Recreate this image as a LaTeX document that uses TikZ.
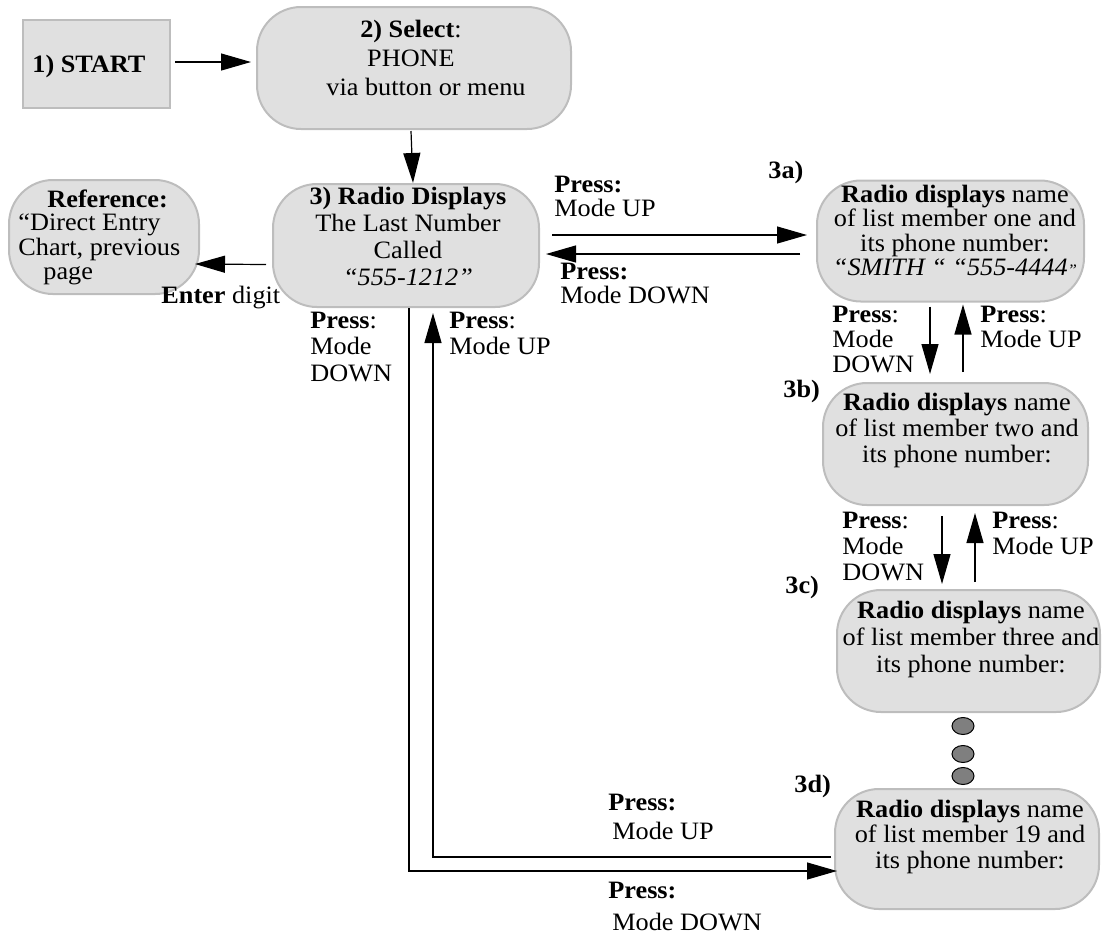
\documentclass[tikz,border=0pt]{standalone}
\usepackage{fontspec}
\setmainfont{Liberation Serif}[FakeStretch=1.05]
\usetikzlibrary{arrows.meta,calc,shapes.geometric}
\definecolor{boxfill}{HTML}{E0E0E0}
\definecolor{boxline}{HTML}{BDBDBD}
\definecolor{dotfill}{HTML}{7F7F7F}
\newcommand\mlc[2]{{\renewcommand\arraystretch{#1}\begin{tabular}[t]{@{}c@{}}#2\end{tabular}}}
\newcommand\mll[2]{{\renewcommand\arraystretch{#1}\begin{tabular}[t]{@{}l@{}}#2\end{tabular}}}
\begin{document}
\begin{tikzpicture}[x=0.5pt,y=-0.5pt,
  font=\fontsize{12.5}{12.5}\selectfont,
  rbox/.style={draw=boxline, fill=boxfill, line width=1pt, rounded corners=22pt, inner sep=0pt},
  sbox/.style={draw=boxline, fill=boxfill, line width=1pt, inner sep=0pt},
  txt/.style={inner sep=0pt, anchor=base},
  ltxt/.style={inner sep=0pt, anchor=base west},
  arr/.style={line width=0.6pt, -{Triangle[length=15pt,width=8.5pt]}},
  dot/.style={draw=black, fill=dotfill, ellipse, minimum width=11pt, minimum height=8.5pt, inner sep=0pt, line width=0.5pt}
]
\useasboundingbox (0,0) rectangle (1105,934);

% boxes
\node[sbox, minimum width=73.5pt, minimum height=44pt] (start) at (96.5,64) {};
\node[rbox, minimum width=157pt, minimum height=61pt] (sel) at (414,68) {};
\node[rbox, minimum width=133pt, minimum height=61.5pt] (r3) at (406,245.5) {};
\node[rbox, minimum width=95pt, minimum height=57pt] (ref) at (104,237) {};
\node[rbox, minimum width=133.5pt, minimum height=60.5pt] (n3a) at (950.5,241) {};
\node[rbox, minimum width=132.5pt, minimum height=61pt] (n3b) at (955.5,444) {};
\node[rbox, minimum width=131.5pt, minimum height=61pt] (n3c) at (968.5,651) {};
\node[rbox, minimum width=132pt, minimum height=60pt] (n3d) at (967,849) {};

% box texts
\node[ltxt] (startt) at (32,72) {\textbf{1) START}};
\node[txt] (selt) at (411,37) {\mlc{1.16}{\textbf{2) Select}:\\PHONE\\\hspace*{15pt}via button or menu}};
\node[txt] (r3t) at (408,204) {\mlc{1.09}{\textbf{3) Radio Displays}\\The Last Number\\Called\\\textit{“555-1212”}}};
\node[ltxt] (reft) at (18,207) {\mll{0.95}{\hspace*{14.5pt}\textbf{Reference:}\\“Direct Entry\\Chart, previous\\\hspace*{12.5pt}page}};
\node[txt] (t3a) at (955,202) {\mlc{0.97}{\textbf{Radio displays} name\\of list member one and\\its phone number:\\\textit{“SMITH “ “555-4444{\fontsize{8}{8}\selectfont ”}}}};
\node[txt] (t3b) at (957,410) {\mlc{1.04}{\textbf{Radio displays} name\\of list member two and\\its phone number:}};
\node[txt] (t3c) at (971,618) {\mlc{1.08}{\textbf{Radio displays} name\\of list member three and\\its phone number:}};
\node[txt] (t3d) at (970,817) {\mlc{1.02}{\textbf{Radio displays} name\\of list member 19 and\\its phone number:}};

% step labels
\node[ltxt] (l3a) at (768,178) {\textbf{3a)}};
\node[ltxt] (l3b) at (783,397) {\textbf{3b)}};
\node[ltxt] (l3c) at (785,593) {\textbf{3c)}};
\node[ltxt] (l3d) at (794,792) {\textbf{3d)}};

% connector labels
\node[ltxt] (enter) at (161,303) {\textbf{Enter} digit};
\node[ltxt] (p1) at (310,328) {\mll{1.06}{\textbf{Press}:\\Mode\\DOWN}};
\node[ltxt] (p2) at (449,328) {\mll{1.06}{\textbf{Press}:\\Mode UP}};
\node[ltxt] (p3) at (554,192) {\mll{0.92}{\textbf{Press:}\\Mode UP}};
\node[ltxt] (p4) at (560,279) {\mll{0.92}{\textbf{Press:}\\Mode DOWN}};
\node[ltxt] (p5) at (832,322) {\mll{1.0}{\textbf{Press}:\\Mode\\DOWN}};
\node[ltxt] (p6) at (980,322) {\mll{1.0}{\textbf{Press}:\\Mode UP}};
\node[ltxt] (p7) at (842,528) {\mll{1.04}{\textbf{Press}:\\Mode\\DOWN}};
\node[ltxt] (p8) at (992,528) {\mll{1.04}{\textbf{Press}:\\Mode UP}};
\node[ltxt] (p9) at (608,810) {\mll{1.16}{\textbf{Press:}\\\hspace*{2pt}Mode UP}};
\node[ltxt] (p10) at (608,898) {\mll{1.28}{\textbf{Press:}\\\hspace*{2pt}Mode DOWN}};

% dots
\node[dot] (d1) at (963,726) {};
\node[dot] (d2) at (963,754) {};
\node[dot] (d3) at (963,776) {};

% connectors
\draw[arr] ($(start.east)+(4,-2)$) -- ($(sel.west)+(-5,-6)$);
\draw[arr] ($(sel.south)+(-3,1)$) -- ($(r3.north)+(7,0)$);
\draw[arr] ($(r3.west)+(-6,19)$) -- ($(ref.east)+(-5,27)$);
\draw[arr] ($(r3.east)+(12,-10.5)$) -- ($(n3a.west)+(-9,-6)$);
\draw[arr] ($(n3a.west)+(-16,13)$) -- ($(r3.east)+(6,8.5)$);
\draw[arr] ($(n3a.south)+(-20.5,4)$) -- ($(n3b.north)+(-25.5,-8)$);
\draw[arr] ($(n3b.north)+(7.5,-10)$) -- ($(n3a.south)+(12.5,2)$);
\draw[arr] ($(n3b.south)+(-13.5,10)$) -- ($(n3c.north)+(-26.5,-5)$);
\draw[arr] ($(n3c.north)+(6.5,-7)$) -- ($(n3b.south)+(19.5,7)$);
\draw[arr] ($(r3.south)+(3,0)$) |- ($(n3d.west)+(3,22)$);
\draw[arr] ($(n3d.west)+(-3,8)$) -| ($(r3.south)+(27,5)$);
\end{tikzpicture}
\end{document}
